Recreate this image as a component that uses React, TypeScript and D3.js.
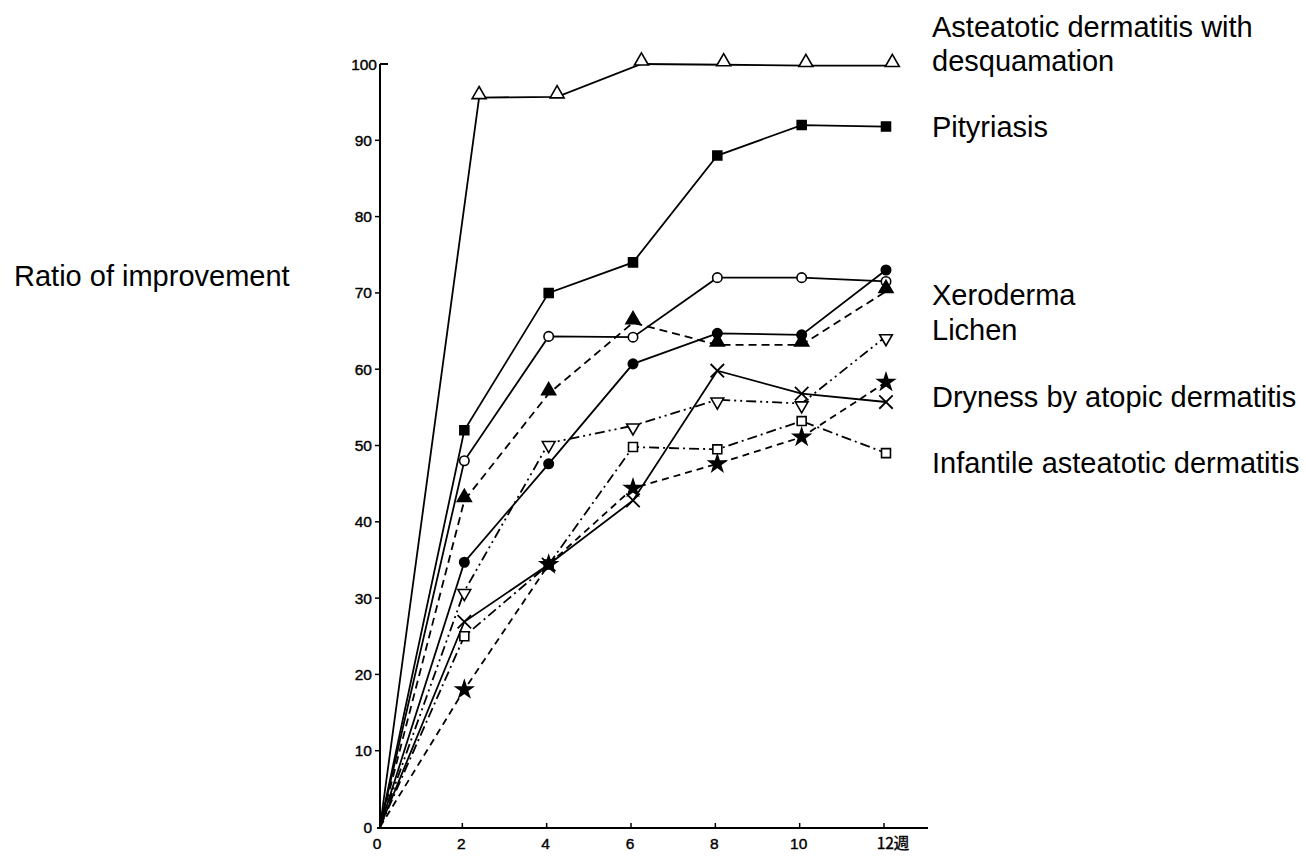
import React from "react";
import * as d3 from "d3";

const weeks = [0, 2, 4, 6, 8, 10, 12];
const weeksDesquamation = [0, 2.35, 4.2, 6.2, 8.15, 10.1, 12.15];

const desquamation = [0, 95.6, 95.7, 100, 99.9, 99.8, 99.8];
const pityriasis = [0, 52, 70, 74, 88, 92, 91.8];
const openCircle = [0, 48, 64.3, 64.2, 72, 72, 71.5];
const filledCircle = [0, 34.7, 47.6, 60.7, 64.7, 64.5, 73];
const filledTriangle = [0, 42.8, 56.8, 66.1, 63.2, 63.2, 70.2];
const invTriangle = [0, 30.9, 50.3, 52.6, 56, 55.5, 64.3];
const openSquare = [0, 25, 34.4, 49.8, 49.5, 53.2, 49];
const crossSeries = [0, 26.9, 34.4, 42.8, 59.8, 56.8, 55.7];
const starSeries = [0, 18, 34.4, 44.4, 47.6, 51.1, 58.3];

const yTicks = [0, 10, 20, 30, 40, 50, 60, 70, 80, 90, 100];
const xTicks = [0, 2, 4, 6, 8, 10, 12];
const xTickLabels = ["0", "2", "4", "6", "8", "10", "12週"];

const legendLabels = [
  "Asteatotic dermatitis with",
  "desquamation",
  "Pityriasis",
  "Xeroderma",
  "Lichen",
  "Dryness by atopic dermatitis",
  "Infantile asteatotic dermatitis",
];
const legendBaselines = [37, 71, 137, 305, 340, 407, 473];
const yAxisTitle = "Ratio of improvement";

type Marker = "triUp" | "triDown" | "square" | "circle" | "cross" | "star";

const series: {
  xs: number[];
  ys: number[];
  marker: Marker;
  filled: boolean;
  dash: string;
}[] = [
  { xs: weeksDesquamation, ys: desquamation, marker: "triUp", filled: false, dash: "" },
  { xs: weeks, ys: pityriasis, marker: "square", filled: true, dash: "" },
  { xs: weeks, ys: openCircle, marker: "circle", filled: false, dash: "" },
  { xs: weeks, ys: filledCircle, marker: "circle", filled: true, dash: "" },
  { xs: weeks, ys: filledTriangle, marker: "triUp", filled: true, dash: "8,5" },
  { xs: weeks, ys: invTriangle, marker: "triDown", filled: false, dash: "10,4,2,4,2,4" },
  { xs: weeks, ys: openSquare, marker: "square", filled: false, dash: "10,4,2,4" },
  { xs: weeks, ys: crossSeries, marker: "cross", filled: false, dash: "" },
  { xs: weeks, ys: starSeries, marker: "star", filled: true, dash: "7,5" },
];

const x = d3.scaleLinear().domain([0, 12]).range([380, 886]);
const y = d3.scaleLinear().domain([0, 100]).range([827, 64]);

const symbolTypes: Record<Marker, d3.SymbolType> = {
  triUp: d3.symbolTriangle,
  triDown: d3.symbolTriangle,
  square: d3.symbolSquare,
  circle: d3.symbolCircle,
  cross: (d3 as any).symbolTimes || (d3 as any).symbolX || d3.symbolCross,
  star: d3.symbolStar,
};
const symbolSizes: Record<Marker, number> = {
  triUp: 85,
  triDown: 70,
  square: 80,
  circle: 70,
  cross: 120,
  star: 85,
};

export default function App() {
  const line = d3
    .line<[number, number]>()
    .x((d) => x(d[0]))
    .y((d) => y(d[1]));

  const axisFont = "'Liberation Sans', Arial, sans-serif";

  return (
    <svg
      width={1306}
      height={857}
      style={{ position: "absolute", left: 0, top: 0, display: "block", background: "#fff" }}
    >
      {/* y axis */}
      <line x1={x(0)} x2={x(0)} y1={y(0) + 2} y2={y(100)} stroke="#000" strokeWidth={2} />
      <line x1={x(0)} x2={x(0) + 8} y1={y(100)} y2={y(100)} stroke="#000" strokeWidth={2} />
      {yTicks.map((t) => (
        <g key={"y" + t}>
          {t > 0 && t < 100 && (
            <line x1={x(0) - 5} x2={x(0)} y1={y(t)} y2={y(t)} stroke="#000" strokeWidth={1.5} />
          )}
          <text
            x={x(0) - (t === 100 ? 3 : 8)}
            y={y(t)}
            dy="0.36em"
            textAnchor="end"
            fontFamily={axisFont}
            fontSize={15.5}
            stroke="#000"
            strokeWidth={0.4}
          >
            {t}
          </text>
        </g>
      ))}
      {/* x axis */}
      <line x1={x(0) - 3} x2={928} y1={y(0) + 1} y2={y(0) + 1} stroke="#000" strokeWidth={2} />
      {xTicks.map((t, i) => (
        <g key={"x" + t}>
          {t > 0 && (
            <line x1={x(t) - 2} x2={x(t) - 2} y1={y(0) + 1} y2={y(0) - 4} stroke="#000" strokeWidth={1.5} />
          )}
          <text
            x={x(t) - 3 + (i === xTicks.length - 1 ? 10 : 0)}
            y={y(0) + 22}
            textAnchor="middle"
            fontFamily={i === xTicks.length - 1 ? "'Noto Sans CJK JP', " + axisFont : axisFont}
            fontSize={15.5}
            stroke="#000"
            strokeWidth={0.4}
          >
            {xTickLabels[i]}
          </text>
        </g>
      ))}

      {/* series lines */}
      {series.map((s, si) => {
        const pts = s.xs.map((xv, i) => [xv, s.ys[i]] as [number, number]);
        return (
          <path
            key={"l" + si}
            d={line(pts) || ""}
            fill="none"
            stroke="#000"
            strokeWidth={1.8}
            strokeDasharray={s.dash || undefined}
          />
        );
      })}
      {/* markers */}
      {series.map((s, si) =>
        s.xs.slice(1).map((xv, i) => {
          const yv = s.ys[i + 1];
          const gen = d3.symbol().type(symbolTypes[s.marker]).size(symbolSizes[s.marker]);
          const dyOff = s.marker === "triUp" ? -3 : s.marker === "triDown" ? 2 : 0;
          const rot = s.marker === "triDown" ? 180 : 0;
          const isCross = s.marker === "cross";
          return (
            <path
              key={"m" + si + "-" + i}
              d={gen() || ""}
              transform={`translate(${x(xv)},${y(yv) + dyOff}) rotate(${rot})`}
              fill={isCross ? "none" : s.filled ? "#000" : "#fff"}
              stroke="#000"
              strokeWidth={isCross ? 1.8 : 1.6}
            />
          );
        })
      )}

      {/* y axis title */}
      <text x={14} y={286} fontFamily={axisFont} fontSize={29} fill="#000">
        {yAxisTitle}
      </text>
      {/* legend labels */}
      {legendLabels.map((l, i) => (
        <text key={"lg" + i} x={932} y={legendBaselines[i]} fontFamily={axisFont} fontSize={29} fill="#000">
          {l}
        </text>
      ))}
    </svg>
  );
}
